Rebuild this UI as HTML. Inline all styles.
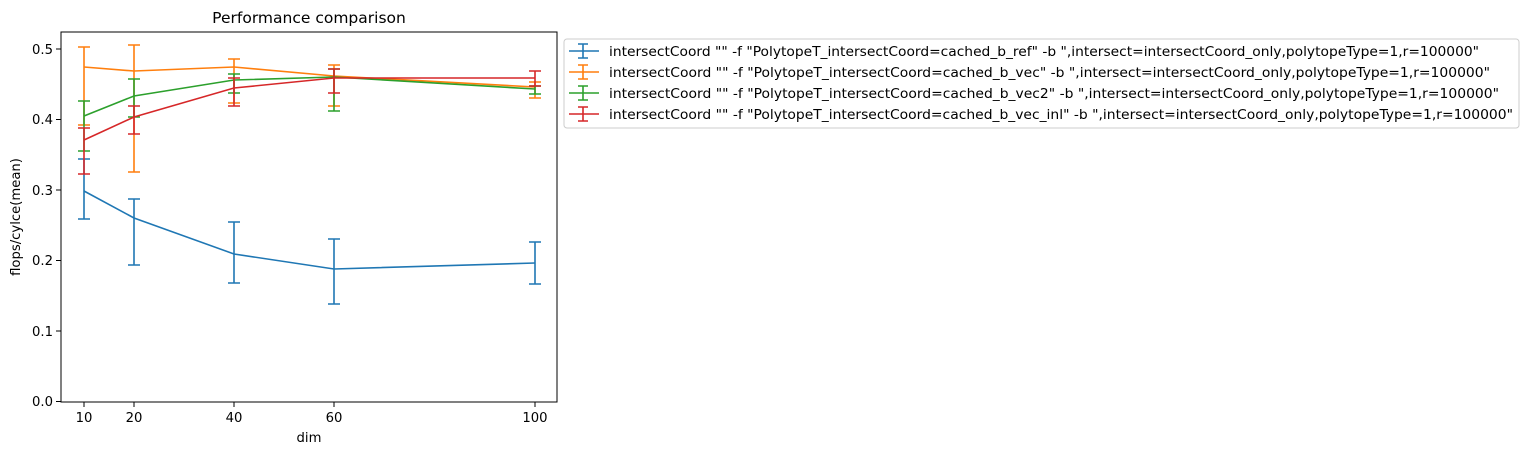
<!DOCTYPE html>
<html><head><meta charset="utf-8"><style>body{margin:0;background:#fff}</style></head><body>
<svg width="1528" height="455" xmlns="http://www.w3.org/2000/svg" font-family="DejaVu Sans, Liberation Sans, sans-serif" font-size="13.2">
<rect width="1528" height="455" fill="#fff"/>
<text x="309" y="23" font-size="15.5" text-anchor="middle">Performance comparison</text>
<g stroke="#000" stroke-width="1">
<line x1="84" y1="402" x2="84" y2="407"/><line x1="134" y1="402" x2="134" y2="407"/><line x1="234" y1="402" x2="234" y2="407"/><line x1="334" y1="402" x2="334" y2="407"/><line x1="535" y1="402" x2="535" y2="407"/>
<line x1="56" y1="401.5" x2="61" y2="401.5"/><line x1="56" y1="331" x2="61" y2="331"/><line x1="56" y1="260.5" x2="61" y2="260.5"/><line x1="56" y1="190" x2="61" y2="190"/><line x1="56" y1="119.5" x2="61" y2="119.5"/><line x1="56" y1="49" x2="61" y2="49"/>
</g>
<g text-anchor="middle"><text x="84" y="422">10</text><text x="134" y="422">20</text><text x="234" y="422">40</text><text x="334" y="422">60</text><text x="535" y="422">100</text>
<text x="309" y="442">dim</text></g>
<g text-anchor="end"><text x="53" y="406">0.0</text><text x="53" y="336">0.1</text><text x="53" y="265">0.2</text><text x="53" y="195">0.3</text><text x="53" y="124">0.4</text><text x="53" y="54">0.5</text></g>
<text transform="translate(20,217) rotate(-90)" text-anchor="middle">flops/cylce(mean)</text>
<g fill="none" stroke-width="1.6">
<g stroke="#1f77b4">
<polyline points="84,191 134,218 234,254 334,269 535,263"/>
<path d="M84,159V219M134,199V265M234,222V283M334,239V304M535,242V284M78,159h12M78,219h12M128,199h12M128,265h12M228,222h12M228,283h12M328,239h12M328,304h12M529,242h12M529,284h12"/>
</g>
<g stroke="#ff7f0e">
<polyline points="84,67 134,71 234,67 334,76 535,87"/>
<path d="M84,47V125M134,45V172M234,59V103M334,65V106M535,82V98M78,47h12M78,125h12M128,45h12M128,172h12M228,59h12M228,103h12M328,65h12M328,106h12M529,82h12M529,98h12"/>
</g>
<g stroke="#2ca02c">
<polyline points="84,116 134,96 234,80 334,77 535,89"/>
<path d="M84,101V151M134,79V117M234,74V93M334,69V111M535,86V94M78,101h12M78,151h12M128,79h12M128,117h12M228,74h12M228,93h12M328,69h12M328,111h12M529,86h12M529,94h12"/>
</g>
<g stroke="#d62728">
<polyline points="84,140 134,117 234,88 334,78 535,78"/>
<path d="M84,128V174M134,106V134M234,78V106M334,69V93M535,71V86M78,128h12M78,174h12M128,106h12M128,134h12M228,78h12M228,106h12M328,69h12M328,93h12M529,71h12M529,86h12"/>
</g>
</g>
<rect x="61" y="32" width="496" height="370" fill="none" stroke="#000" stroke-width="1"/>
<rect x="564" y="39" width="955" height="89" rx="3" fill="#fff" stroke="#ccc" stroke-width="1"/>
<g stroke-width="1.6">
<path d="M569,51h30M583,44v14M578,44h10M578,58h10" stroke="#1f77b4"/>
<path d="M569,72h30M583,65v14M578,65h10M578,79h10" stroke="#ff7f0e"/>
<path d="M569,93h30M583,86v14M578,86h10M578,100h10" stroke="#2ca02c"/>
<path d="M569,114h30M583,107v14M578,107h10M578,121h10" stroke="#d62728"/>
</g>
<text x="609" y="56" textLength="870" lengthAdjust="spacingAndGlyphs">intersectCoord "" -f "PolytopeT_intersectCoord=cached_b_ref" -b ",intersect=intersectCoord_only,polytopeType=1,r=100000"</text>
<text x="609" y="77" textLength="881" lengthAdjust="spacingAndGlyphs">intersectCoord "" -f "PolytopeT_intersectCoord=cached_b_vec" -b ",intersect=intersectCoord_only,polytopeType=1,r=100000"</text>
<text x="609" y="98" textLength="890" lengthAdjust="spacingAndGlyphs">intersectCoord "" -f "PolytopeT_intersectCoord=cached_b_vec2" -b ",intersect=intersectCoord_only,polytopeType=1,r=100000"</text>
<text x="609" y="119" textLength="904" lengthAdjust="spacingAndGlyphs">intersectCoord "" -f "PolytopeT_intersectCoord=cached_b_vec_inl" -b ",intersect=intersectCoord_only,polytopeType=1,r=100000"</text>
</svg>
</body></html>
